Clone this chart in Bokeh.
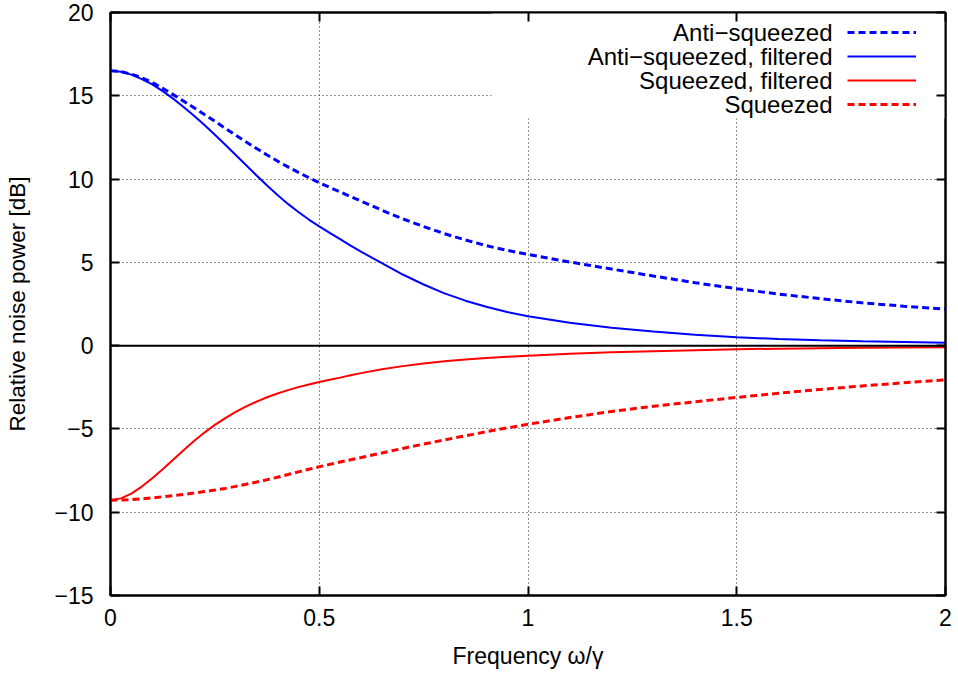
import numpy as np
from bokeh.plotting import figure
from bokeh.core.properties import value
from bokeh.models import (Range1d, LinearAxis, FixedTicker, Span, BoxAnnotation,
                          Legend, LegendItem, Label)
from bokeh.embed import file_html
from bokeh.resources import INLINE

# ---- data ----
freq = [0, 0.025, 0.05, 0.075, 0.1, 0.125, 0.15, 0.175, 0.2, 0.225, 0.25, 0.275, 0.3,
        0.325, 0.35, 0.375, 0.4, 0.425, 0.45, 0.475, 0.5, 0.525, 0.55, 0.575, 0.6,
        0.65, 0.7, 0.75, 0.8, 0.85, 0.9, 0.95, 1.0,
        1.1, 1.2, 1.3, 1.4, 1.5, 1.6, 1.7, 1.8, 1.9, 2.0]

anti_squeezed = [16.5, 16.45, 16.3, 16.08, 15.8, 15.45, 15.07, 14.68, 14.28, 13.88, 13.47,
                 13.05, 12.63, 12.22, 11.83, 11.45, 11.08, 10.73, 10.4, 10.08, 9.78, 9.5,
                 9.23, 8.95, 8.68,
                 8.13, 7.61, 7.15, 6.72, 6.35, 6.0, 5.72, 5.48,
                 5.02, 4.6, 4.18, 3.78, 3.42, 3.1, 2.82, 2.57, 2.37, 2.2]

anti_squeezed_filtered = [16.5, 16.44, 16.27, 16.0, 15.68, 15.28, 14.83, 14.33, 13.8, 13.24,
                          12.66, 12.06, 11.45, 10.83, 10.21, 9.61, 9.04, 8.51, 8.02, 7.57,
                          7.16, 6.77, 6.39, 6.01, 5.64,
                          4.95, 4.27, 3.67, 3.14, 2.7, 2.33, 2.02, 1.77,
                          1.38, 1.08, 0.85, 0.66, 0.5, 0.4, 0.32, 0.26, 0.22, 0.18]

squeezed_filtered = [-9.28, -9.17, -8.88, -8.46, -7.96, -7.42, -6.85, -6.28, -5.73, -5.22,
                     -4.76, -4.35, -3.98, -3.65, -3.36, -3.1, -2.87, -2.67, -2.49, -2.33,
                     -2.18, -2.05, -1.92, -1.78, -1.65,
                     -1.42, -1.23, -1.07, -0.94, -0.83, -0.74, -0.67, -0.6,
                     -0.49, -0.4, -0.33, -0.27, -0.22, -0.18, -0.15, -0.13, -0.11, -0.1]

squeezed = [-9.28, -9.27, -9.24, -9.2, -9.14, -9.07, -9.0, -8.93, -8.85, -8.76, -8.67,
            -8.57, -8.45, -8.32, -8.19, -8.05, -7.9, -7.74, -7.58, -7.42, -7.27, -7.13,
            -6.99, -6.85, -6.72,
            -6.44, -6.17, -5.91, -5.66, -5.41, -5.17, -4.94, -4.72,
            -4.32, -3.95, -3.64, -3.37, -3.11, -2.86, -2.63, -2.42, -2.23, -2.06]

series_names = ["Anti\u2212squeezed", "Anti\u2212squeezed, filtered",
                "Squeezed, filtered", "Squeezed"]

x_ticks = [0, 0.5, 1, 1.5, 2]
x_tick_labels = ["0", "0.5", "1", "1.5", "2"]
y_ticks = [-15, -10, -5, 0, 5, 10, 15, 20]
y_tick_labels = ["\u221215", "\u221210", "\u22125", "0", "5", "10", "15", "20"]

x_label = "Frequency \u03c9/\u03b3"
y_label = "Relative noise power [dB]"

FONT = "Liberation Sans"
X0, X1, Y0, Y1 = 0, 2, -15, 20
FRAME_L, FRAME_T, FRAME_W, FRAME_H = 110, 12, 835, 583

p = figure(width=958, height=675, output_backend="svg", toolbar_location=None,
           x_range=Range1d(X0, X1), y_range=Range1d(Y0, Y1),
           min_border_left=FRAME_L, min_border_right=958 - FRAME_L - FRAME_W,
           min_border_top=FRAME_T, min_border_bottom=675 - FRAME_T - FRAME_H,
           x_axis_label=x_label, y_axis_label=y_label)
p.background_fill_color = "white"
p.border_fill_color = "white"
p.outline_line_color = "black"
p.outline_line_width = 2

def px_to_x(px):
    return X0 + (px - FRAME_L) / FRAME_W * (X1 - X0)

def py_to_y(py):
    return Y1 - (py - FRAME_T) / FRAME_H * (Y1 - Y0)

# grid
for g, ticks in ((p.xgrid, x_ticks), (p.ygrid, y_ticks)):
    g.ticker = FixedTicker(ticks=ticks)
    g.grid_line_color = "#222222"
    g.grid_line_width = 1
    g.grid_line_dash = "1 3"

# white area behind the key (gnuplot opaque key)
key_box = BoxAnnotation(left=px_to_x(491), right=X1, top=Y1, bottom=py_to_y(118),
                        fill_color="white", fill_alpha=1, line_color=None,
                        level="underlay")
p.add_layout(key_box)

# axes
def style_axis(ax, ticks, labels, show_labels=True):
    ax.ticker = FixedTicker(ticks=ticks)
    ax.major_label_overrides = {t: l for t, l in zip(ticks, labels)}
    ax.axis_line_color = "black"
    ax.axis_line_width = 2
    ax.major_tick_in = 9
    ax.major_tick_out = 0
    ax.major_tick_line_width = 2
    ax.major_tick_line_color = "black"
    ax.minor_tick_line_color = None
    ax.major_label_text_font = FONT
    if show_labels:
        ax.major_label_text_font_size = "23px"
        ax.major_label_text_color = "black"
    else:
        ax.major_label_text_font_size = "0px"
        ax.major_label_text_color = None
        ax.major_label_standoff = 0

style_axis(p.xaxis[0], x_ticks, x_tick_labels)
style_axis(p.yaxis[0], y_ticks, y_tick_labels)
p.xaxis[0].major_label_standoff = 13
p.yaxis[0].major_label_standoff = 17
for ax, so, fs in ((p.xaxis[0], 14, "23px"), (p.yaxis[0], 21, "22.5px")):
    ax.axis_label_text_font = FONT
    ax.axis_label_text_font_size = fs
    ax.axis_label_text_font_style = "normal"
    ax.axis_label_text_color = "black"
    ax.axis_label_standoff = so

top_ax = LinearAxis()
right_ax = LinearAxis()
style_axis(top_ax, x_ticks, x_tick_labels, show_labels=False)
style_axis(right_ax, y_ticks, y_tick_labels, show_labels=False)
p.add_layout(top_ax, "above")
p.add_layout(right_ax, "right")

# zero axis
p.add_layout(Span(location=0, dimension="width", line_color="black", line_width=2))

# curves
r_as = p.line(freq, anti_squeezed, line_color="#0000ff", line_width=3, line_dash="7 4")
r_asf = p.line(freq, anti_squeezed_filtered, line_color="#0000ff", line_width=2)
r_sqf = p.line(freq, squeezed_filtered, line_color="#ff0000", line_width=2)
r_sq = p.line(freq, squeezed, line_color="#ff0000", line_width=3, line_dash="7 4")
renderers = [r_as, r_asf, r_sqf, r_sq]

# key: line samples from a Legend, right-aligned texts to the left of the samples
ROW_H = 24
KEY_TOP = 20          # canvas px of first row top
SAMPLE_L = 847        # canvas px
legend = Legend(items=[LegendItem(label=value(""), renderers=[r]) for r in renderers],
                location=(SAMPLE_L - FRAME_L, FRAME_H - (KEY_TOP - FRAME_T) - 4 * ROW_H),
                glyph_width=69, glyph_height=ROW_H, label_height=ROW_H, label_width=1,
                spacing=0, padding=0, margin=0, label_standoff=0,
                label_text_font=FONT, label_text_font_size="10px",
                background_fill_alpha=0, border_line_color=None)
p.add_layout(legend)

for i, name in enumerate(series_names):
    p.add_layout(Label(x=px_to_x(SAMPLE_L - 15), y=py_to_y(KEY_TOP + ROW_H * (i + 0.5)),
                       text=name, text_align="right", text_baseline="middle",
                       text_font=FONT, text_font_size="24px", text_color="black"))

open("out.html", "w").write(file_html(p, INLINE))
